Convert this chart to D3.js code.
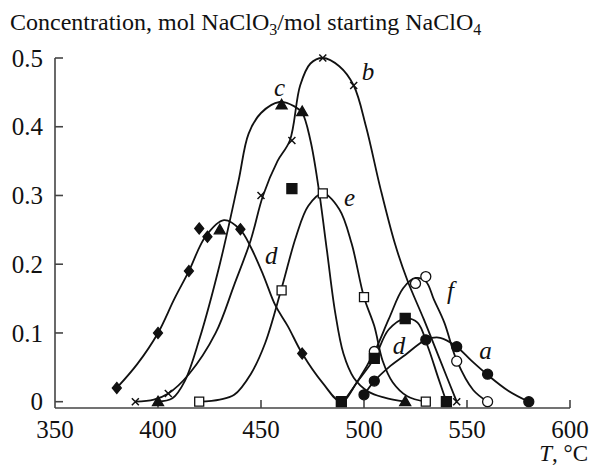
<!DOCTYPE html>
<html lang="en">
<head>
<meta charset="utf-8">
<script src="https://d3js.org/d3.v7.min.js"></script>
<style>
  body { margin: 0; background: #fff; }
  text { font-family: "Liberation Serif", "DejaVu Serif", serif; fill: #111; }
</style>
</head>
<body>
<script>
// ---- data ----
var xTicks = [350, 400, 450, 500, 550, 600];
var yTicks = [0, 0.1, 0.2, 0.3, 0.4, 0.5];
var yTickLabels = ["0", "0.1", "0.2", "0.3", "0.4", "0.5"];

// fitted curves
var curveA = [[500,0.01],[505,0.03],[512,0.05],[520,0.068],[530,0.09],[537,0.093],[545,0.08],[552,0.06],[560,0.039],[570,0.016],[580,0]];
var curveB = [[389,0],[398,0.003],[405,0.012],[415,0.04],[428,0.10],[437,0.17],[445,0.235],[451,0.30],[458,0.35],[464,0.38],[469,0.46],[474,0.492],[480,0.50],[488,0.488],[495,0.46],[501,0.40],[508,0.31],[515,0.23],[521,0.177],[529,0.12],[537,0.06],[545,0]];
var curveC = [[400,0],[407,0.005],[413,0.03],[420,0.09],[430,0.2],[439,0.32],[444,0.39],[450,0.42],[459,0.436],[466,0.43],[470,0.42],[474,0.38],[478,0.31],[482,0.22],[486,0.13],[490,0.07],[495,0.035],[502,0.015],[510,0.006],[520,0]];
var curveD = [[380,0.02],[390,0.055],[400,0.10],[408,0.15],[415,0.19],[423,0.24],[432,0.264],[440,0.25],[445,0.225],[451,0.185],[457,0.14],[463,0.11],[470,0.07],[480,0.027],[489,0],[497,0.03],[505,0.063],[512,0.105],[520,0.121],[526,0.115],[531,0.08],[536,0.035],[540,0]];
var curveE = [[420,0],[430,0.003],[437,0.01],[445,0.04],[452,0.085],[460,0.165],[467,0.24],[473,0.285],[480,0.303],[488,0.28],[494,0.23],[500,0.152],[505,0.11],[509,0.06],[514,0.028],[521,0.008],[530,0]];
var curveF = [[490,0],[497,0.03],[505,0.072],[512,0.12],[519,0.165],[525,0.18],[530,0.175],[534,0.148],[539,0.115],[545,0.06],[553,0.017],[560,0]];

// measured points
var aPoints = [[500,0.01],[505,0.03],[530,0.09],[545,0.08],[560,0.04],[580,0]];          // filled circles
var bPoints = [[389,0],[405,0.012],[450,0.30],[465,0.38],[480,0.50],[495,0.46],[545,0]];  // crosses
var cPoints = [[400,0],[430,0.25],[460,0.432],[470,0.422],[520,0]];                       // filled triangles
var dPoints = [[380,0.02],[400,0.10],[415,0.19],[420,0.252],[424,0.24],[440,0.251],[470,0.07]]; // diamonds
var sqPoints = [[465,0.31],[489,0],[505,0.063],[520,0.121],[540,0]];                      // filled squares
var ePoints = [[420,0],[460,0.162],[480,0.303],[500,0.152],[530,0]];                      // open squares
var fPoints = [[505,0.073],[525,0.172],[530,0.182],[545,0.059],[560,0]];                  // open circles

var curveLabels = ["c", "b", "e", "d", "d", "f", "a"];
var labelX = [459, 502, 493, 455, 517, 542, 559];
var labelY = [0.458, 0.48, 0.298, 0.213, 0.082, 0.162, 0.075];

// ---- chart ----
var width = 592, height = 468;
var svg = d3.select("body").append("svg")
    .attr("width", width)
    .attr("height", height);

var x = d3.scaleLinear().domain([350, 600]).range([55, 570]);
var y = d3.scaleLinear().domain([0, 0.5]).range([401.7, 58]);
var axisY = 408;

// title
var title = svg.append("text")
    .attr("x", 10)
    .attr("y", 30)
    .style("font-size", "24px");
title.append("tspan").text("Concentration, mol NaClO");
title.append("tspan").attr("dy", 5).style("font-size", "16px").text("3");
title.append("tspan").attr("dy", -5).text("/mol starting NaClO");
title.append("tspan").attr("dy", 5).style("font-size", "16px").text("4");

// axes
var axisColor = "#444";
svg.append("line")
    .attr("x1", x(350)).attr("x2", x(350))
    .attr("y1", y(0.5)).attr("y2", axisY)
    .attr("stroke", axisColor).attr("stroke-width", 1.6);
svg.append("line")
    .attr("x1", x(350)).attr("x2", x(600))
    .attr("y1", axisY).attr("y2", axisY)
    .attr("stroke", axisColor).attr("stroke-width", 1.6);

svg.selectAll(".ytick")
    .data(yTicks)
    .enter().append("line")
    .attr("x1", x(350)).attr("x2", x(350) + 8)
    .attr("y1", function(d) { return y(d); })
    .attr("y2", function(d) { return y(d); })
    .attr("stroke", axisColor).attr("stroke-width", 1.6);

svg.selectAll(".ylab")
    .data(yTicks)
    .enter().append("text")
    .attr("x", 43)
    .attr("y", function(d) { return y(d); })
    .attr("dy", "0.35em")
    .style("text-anchor", "end")
    .style("font-size", "25px")
    .text(function(d, i) { return yTickLabels[i]; });

svg.selectAll(".xtick")
    .data(xTicks.slice(1))
    .enter().append("line")
    .attr("x1", function(d) { return x(d); })
    .attr("x2", function(d) { return x(d); })
    .attr("y1", axisY).attr("y2", axisY - 8)
    .attr("stroke", axisColor).attr("stroke-width", 1.6);

svg.selectAll(".xlab")
    .data(xTicks)
    .enter().append("text")
    .attr("x", function(d) { return x(d); })
    .attr("y", 438)
    .style("text-anchor", "middle")
    .style("font-size", "25px")
    .text(function(d) { return d; });

var xTitle = svg.append("text")
    .attr("x", 588)
    .attr("y", 461)
    .style("text-anchor", "end")
    .style("font-size", "23px");
xTitle.append("tspan").style("font-style", "italic").text("T");
xTitle.append("tspan").text(", °C");

// curves
var line = d3.line()
    .x(function(d) { return x(d[0]); })
    .y(function(d) { return y(d[1]); })
    .curve(d3.curveCatmullRom.alpha(0.5));

[curveA, curveB, curveC, curveD, curveE, curveF].forEach(function(c) {
    svg.append("path")
        .datum(c)
        .attr("d", line)
        .attr("fill", "none")
        .attr("stroke", "#111")
        .attr("stroke-width", 1.8);
});

// markers
function shapePath(kind) {
    if (kind === "diamond") return "M0,-5.5L4.5,0L0,5.5L-4.5,0Z";
    if (kind === "square") return "M-5,-5H5V5H-5Z";
    if (kind === "osquare") return "M-4.5,-4.5H4.5V4.5H-4.5Z";
    if (kind === "triangle") return "M0,-5.5L5.5,4L-5.5,4Z";
    if (kind === "cross") return "M-3.5,-3.5L3.5,3.5M-3.5,3.5L3.5,-3.5";
    return d3.symbol().type(d3.symbolCircle).size(Math.PI * 25)();
}

function drawMarkers(points, kind, filled) {
    svg.append("g").selectAll("path")
        .data(points)
        .enter().append("path")
        .attr("transform", function(d) { return "translate(" + x(d[0]) + "," + y(d[1]) + ")"; })
        .attr("d", shapePath(kind))
        .attr("fill", kind === "cross" ? "none" : (filled ? "#111" : "#fff"))
        .attr("stroke", "#111")
        .attr("stroke-width", kind === "cross" ? 1.5 : 1.3);
}

drawMarkers(fPoints, "circle", false);
drawMarkers(ePoints, "osquare", false);
drawMarkers(aPoints, "circle", true);
drawMarkers(bPoints, "cross", false);
drawMarkers(cPoints, "triangle", true);
drawMarkers(dPoints, "diamond", true);
drawMarkers(sqPoints, "square", true);

// curve letters
svg.selectAll(".clab")
    .data(curveLabels)
    .enter().append("text")
    .attr("x", function(d, i) { return x(labelX[i]); })
    .attr("y", function(d, i) { return y(labelY[i]); })
    .attr("dy", "0.35em")
    .style("text-anchor", "middle")
    .style("font-style", "italic")
    .style("font-size", "25px")
    .text(function(d) { return d; });
</script>
</body>
</html>
